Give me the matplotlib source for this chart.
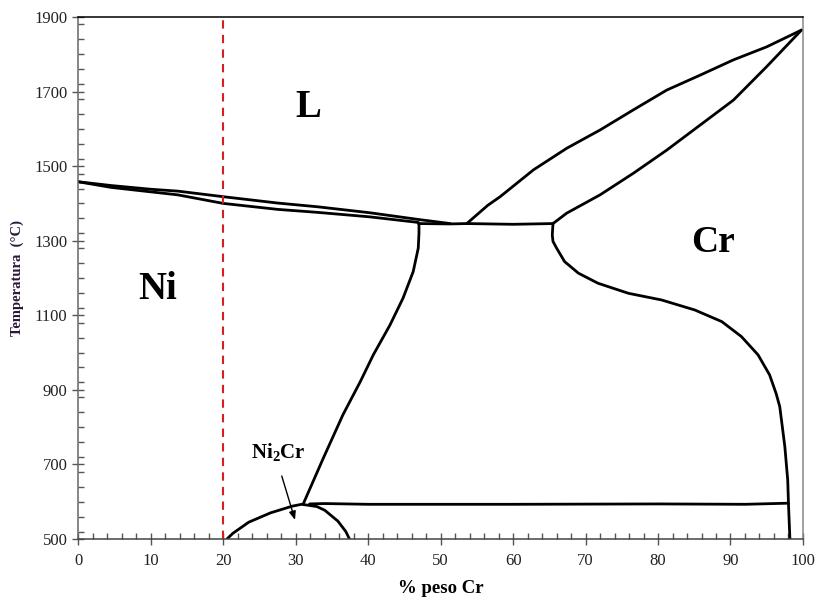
import matplotlib.pyplot as plt
from matplotlib.ticker import MultipleLocator

# Ni-Cr phase diagram, curves
liq_ni_x = [0, 4.5, 10, 13.7, 20, 27.5, 33, 40.2, 46.9, 51.3]
liq_ni_t = [1458, 1448, 1438, 1433, 1418, 1401, 1391, 1375, 1357, 1346]

sol_ni_x = [0, 4.5, 10, 13.7, 20, 27.5, 33, 40.2, 46.9]
sol_ni_t = [1458, 1443, 1431, 1423, 1400, 1384, 1376, 1364, 1349]

eut_x = [46.9, 51.3, 53.6, 60, 65.5]
eut_t = [1346, 1345, 1346, 1344, 1346]

liq_cr_x = [53.6, 56.5, 58.2, 62.8, 67.4, 72.0, 76.6, 81.2, 85.8, 90.4, 95.0, 99.8]
liq_cr_t = [1346, 1395, 1418, 1490, 1548, 1597, 1651, 1704, 1744, 1785, 1820, 1865]

sol_cr_x = [65.5, 67.4, 72.0, 76.6, 81.2, 85.8, 90.4, 95.0, 99.8]
sol_cr_t = [1346, 1374, 1423, 1481, 1543, 1610, 1677, 1767, 1865]

solv_cr_x = [65.5, 65.4, 65.5, 66.0, 67.1, 69.0, 71.7, 75.9, 80.5, 85.1, 88.8,
             91.5, 93.8, 95.4, 96.3, 96.8, 97.5, 97.9, 98.0, 98.2]
solv_cr_t = [1347, 1315, 1298, 1280, 1244, 1213, 1186, 1159, 1141, 1114, 1083,
             1043, 994, 940, 890, 855, 748, 658, 596, 500]

solv_ni_x = [47.0, 47.0, 46.9, 46.2, 44.8, 43.0, 40.7, 38.9, 36.5, 33.8, 31.0]
solv_ni_t = [1347, 1320, 1280, 1217, 1146, 1074, 994, 922, 833, 717, 593]

dome_x = [20.5, 21.3, 23.5, 26.5, 29.5, 30.8, 32.9, 34.0, 35.8, 36.9, 37.4]
dome_t = [500, 515, 545, 570, 588, 593, 587, 577, 548, 520, 500]

iso_x = [31.9, 34, 40, 60, 80, 92, 98.0]
iso_t = [594, 595, 593, 593, 594, 593, 596]

comp_x = 20
xticks = list(range(0, 101, 10))
yticks = list(range(500, 1901, 200))

plt.rcParams['font.family'] = ['Liberation Serif', 'DejaVu Serif']
plt.rcParams['mathtext.fontset'] = 'custom'
plt.rcParams['mathtext.rm'] = 'Liberation Serif:bold'
plt.rcParams['mathtext.default'] = 'rm'

fig = plt.figure(figsize=(8.21, 6.01), dpi=100)
ax = fig.add_axes([0.0956, 0.1032, 0.8824, 0.8685])

curves = [(liq_ni_x, liq_ni_t), (sol_ni_x, sol_ni_t), (eut_x, eut_t),
          (liq_cr_x, liq_cr_t), (sol_cr_x, sol_cr_t), (solv_cr_x, solv_cr_t),
          (solv_ni_x, solv_ni_t), (dome_x, dome_t), (iso_x, iso_t)]
for cx, ct in curves:
    ax.plot(cx, ct, color='black', lw=2.0, solid_joinstyle='round',
            solid_capstyle='round')

ax.plot([comp_x, comp_x], [500, 1905], color='#d42020', lw=1.5,
        ls=(0, (4, 3)), clip_on=False)

ax.set_xlim(0, 100)
ax.set_ylim(500, 1900)
ax.set_xticks(xticks)
ax.set_yticks(yticks)
ax.xaxis.set_minor_locator(MultipleLocator(2))
ax.yaxis.set_minor_locator(MultipleLocator(40))
ax.tick_params(which='major', direction='inout', length=8, width=1,
               labelsize=12, color='#555555', labelcolor='#222222')
ax.tick_params(which='minor', direction='in', length=4, width=1,
               color='#555555')
ax.tick_params(axis='x', pad=6)
ax.tick_params(axis='y', pad=4)

ax.spines['left'].set_color('#666666')
ax.spines['bottom'].set_color('#444444')
ax.spines['right'].set_color('#888888')
ax.spines['top'].set_color('black')
for s in ax.spines.values():
    s.set_linewidth(1.1)

ax.set_xlabel('% peso Cr', fontsize=13.5, fontweight='bold', labelpad=8)
ax.set_ylabel('Temperatura  (°C)', fontsize=10.5, fontweight='bold',
              color='#2a1838', labelpad=7)

ax.text(31.7, 1656, 'L', fontsize=28, fontweight='bold', ha='center', va='center')
ax.text(11.0, 1168, 'Ni', fontsize=28, fontweight='bold', ha='center', va='center')
ax.text(87.6, 1294, 'Cr', fontsize=27, fontweight='bold', ha='center', va='center')

ax.annotate('', xy=(30.0, 544), xytext=(27.95, 676),
            arrowprops=dict(arrowstyle='-|>,head_length=0.5,head_width=0.2',
                            color='black', lw=1.0))
ax.text(27.6, 733, 'Ni$_2$Cr', fontsize=15, fontweight='bold',
        ha='center', va='center')

fig.savefig('out.png', dpi=100)
